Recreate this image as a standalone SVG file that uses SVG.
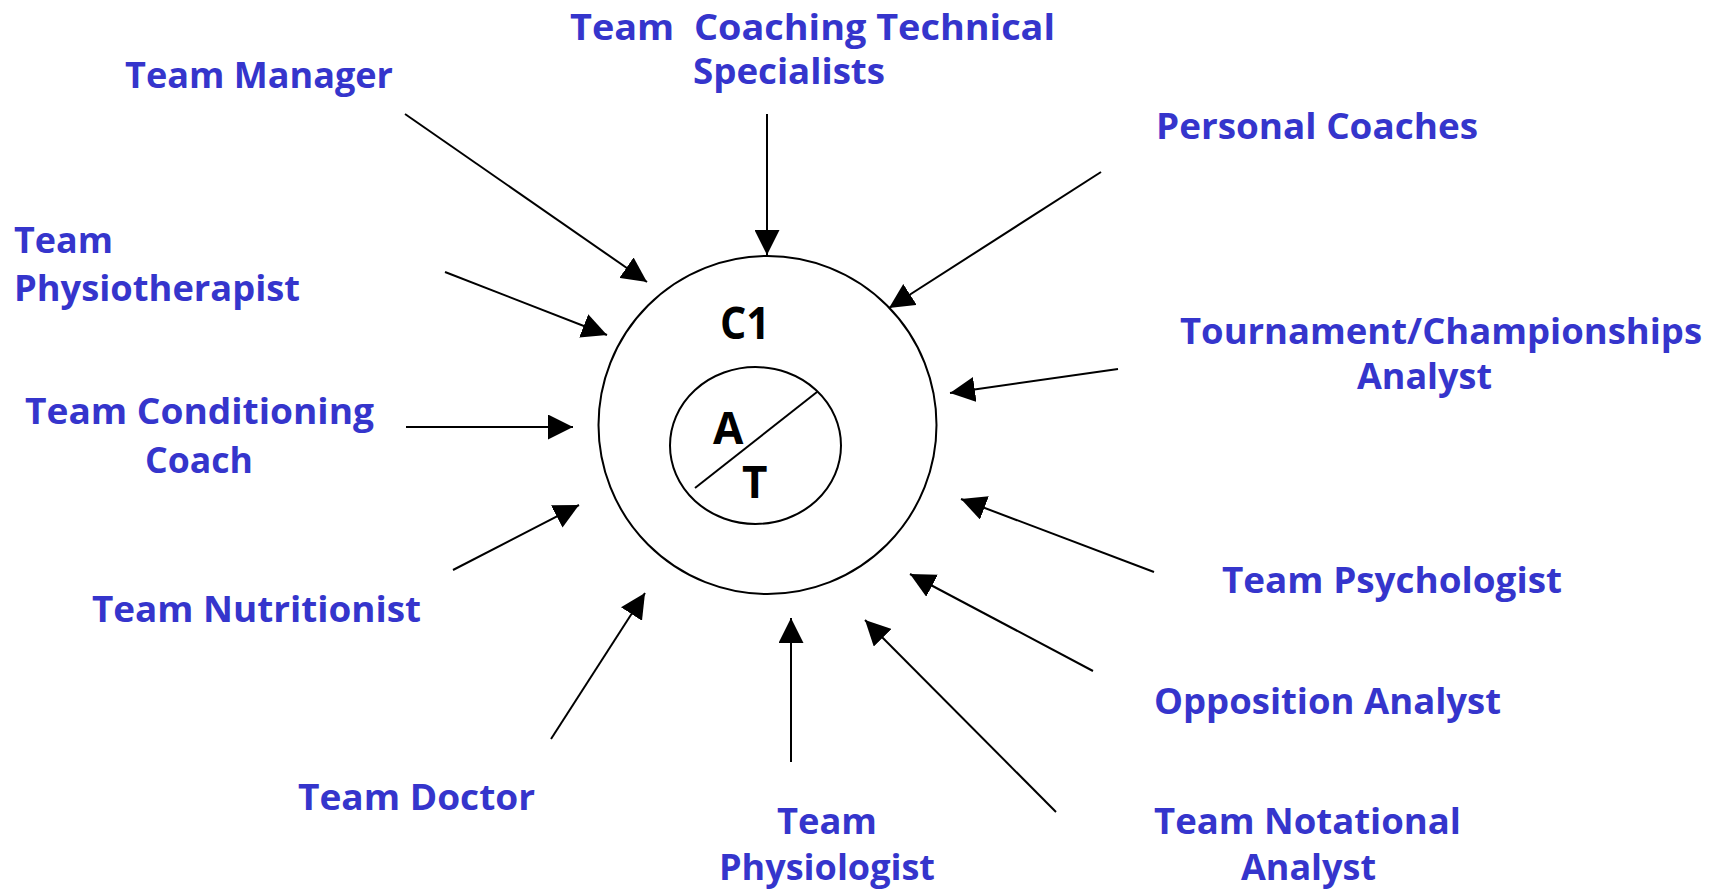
<svg xmlns="http://www.w3.org/2000/svg" width="1721" height="889" viewBox="0 0 1721 889">
<style>
.lbl{font-family:"Open Sans","Liberation Sans",sans-serif;font-weight:bold;font-size:35.5px;fill:#3535cc;}
.core{font-family:"Open Sans","Liberation Sans",sans-serif;font-weight:bold;font-size:44px;fill:#000;}
.con{stroke:#000;stroke-width:2;fill:none;marker-end:url(#ah);}
.shape{stroke:#000;stroke-width:2;fill:#fff;}
</style>
<defs>
<marker id="ah" markerUnits="userSpaceOnUse" markerWidth="25" markerHeight="25" refX="25" refY="12.5" orient="auto" viewBox="0 0 25 25">
<path d="M0,0 L25,12.5 L0,25 z" fill="#000"/>
</marker>
</defs>
<rect width="1721" height="889" fill="#fff"/>
<g id="center">
<circle class="shape" cx="767.5" cy="425" r="169"/>
<ellipse class="shape" cx="755.5" cy="445.5" rx="85.5" ry="78.5"/>
<line x1="695" y1="488" x2="817" y2="392" stroke="#000" stroke-width="2"/>
<text class="core" x="720" y="339" textLength="50" lengthAdjust="spacingAndGlyphs">C1</text>
<text class="core" x="713" y="444">A</text>
<text class="core" x="742" y="498">T</text>
</g>
<g id="connectors">
<line class="con" x1="405" y1="114" x2="647" y2="282"/>
<line class="con" x1="767" y1="114" x2="767" y2="255"/>
<line class="con" x1="1101" y1="172" x2="889" y2="308"/>
<line class="con" x1="445" y1="272" x2="607" y2="335"/>
<line class="con" x1="406" y1="427" x2="573" y2="427"/>
<line class="con" x1="453" y1="570" x2="579" y2="505"/>
<line class="con" x1="551" y1="739" x2="645" y2="593"/>
<line class="con" x1="791" y1="762" x2="791" y2="618"/>
<line class="con" x1="1056" y1="812" x2="865" y2="620"/>
<line class="con" x1="1093" y1="671" x2="910" y2="574"/>
<line class="con" x1="1154" y1="572" x2="961" y2="499"/>
<line class="con" x1="1118" y1="369" x2="950" y2="393"/>
</g>
<g id="team-manager"><text class="lbl" x="125" y="88" textLength="268" lengthAdjust="spacingAndGlyphs">Team Manager</text></g>
<g id="team-coaching"><text class="lbl" x="570" y="40" textLength="485" lengthAdjust="spacingAndGlyphs" xml:space="preserve">Team  Coaching Technical</text><text class="lbl" x="693" y="84" textLength="192" lengthAdjust="spacingAndGlyphs">Specialists</text></g>
<g id="personal-coaches"><text class="lbl" x="1156" y="139" textLength="322" lengthAdjust="spacingAndGlyphs">Personal Coaches</text></g>
<g id="team-physiotherapist"><text class="lbl" x="14" y="253" textLength="99" lengthAdjust="spacingAndGlyphs">Team</text><text class="lbl" x="14" y="301" textLength="286" lengthAdjust="spacingAndGlyphs">Physiotherapist</text></g>
<g id="team-conditioning"><text class="lbl" x="25" y="424" textLength="349" lengthAdjust="spacingAndGlyphs">Team Conditioning</text><text class="lbl" x="145" y="473" textLength="108" lengthAdjust="spacingAndGlyphs">Coach</text></g>
<g id="team-nutritionist"><text class="lbl" x="92" y="622" textLength="329" lengthAdjust="spacingAndGlyphs">Team Nutritionist</text></g>
<g id="team-doctor"><text class="lbl" x="298" y="810" textLength="237" lengthAdjust="spacingAndGlyphs">Team Doctor</text></g>
<g id="team-physiologist"><text class="lbl" x="777" y="834" textLength="100" lengthAdjust="spacingAndGlyphs">Team</text><text class="lbl" x="719" y="880" textLength="216" lengthAdjust="spacingAndGlyphs">Physiologist</text></g>
<g id="tournament-analyst"><text class="lbl" x="1180" y="344" textLength="522" lengthAdjust="spacingAndGlyphs">Tournament/Championships</text><text class="lbl" x="1357" y="389" textLength="135" lengthAdjust="spacingAndGlyphs">Analyst</text></g>
<g id="team-psychologist"><text class="lbl" x="1222" y="593" textLength="340" lengthAdjust="spacingAndGlyphs">Team Psychologist</text></g>
<g id="opposition-analyst"><text class="lbl" x="1154" y="714" textLength="347" lengthAdjust="spacingAndGlyphs">Opposition Analyst</text></g>
<g id="team-notational"><text class="lbl" x="1154" y="834" textLength="307" lengthAdjust="spacingAndGlyphs">Team Notational</text><text class="lbl" x="1241" y="880" textLength="135" lengthAdjust="spacingAndGlyphs">Analyst</text></g>
</svg>
